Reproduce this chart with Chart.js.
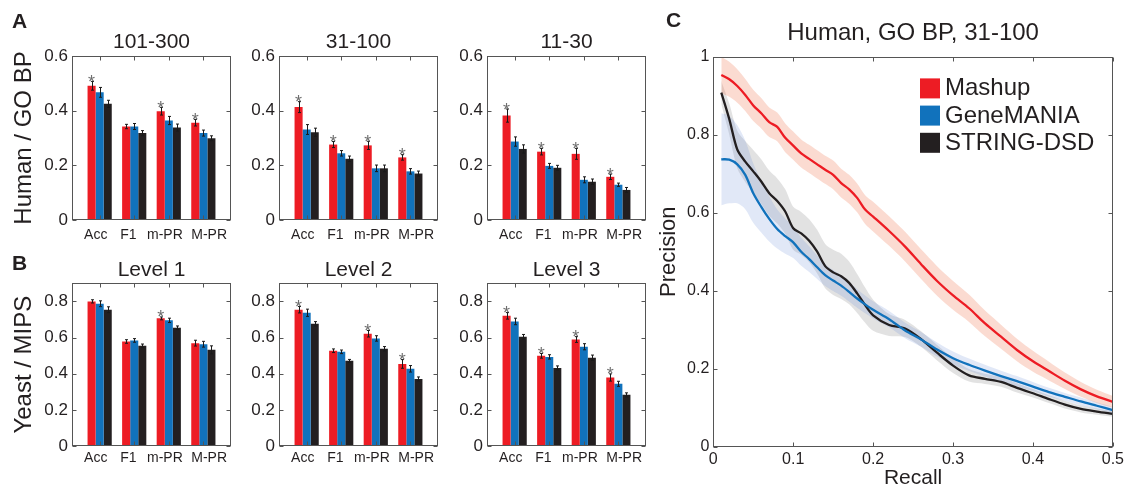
<!DOCTYPE html>
<html><head><meta charset="utf-8">
<script src="https://cdn.jsdelivr.net/npm/chart.js@4.4.1/dist/chart.umd.min.js"></script>
<style>
html,body{margin:0;padding:0;background:#fff;width:1127px;height:490px;overflow:hidden;}
canvas{position:absolute;}
.lbl{position:absolute;font:bold 21px 'Liberation Sans',Arial,sans-serif;color:#231f20;line-height:21px;}
</style></head><body>
<canvas id="a1" width="240" height="245" style="left:0;top:0"></canvas>
<canvas id="a2" width="210" height="245" style="left:240px;top:0"></canvas>
<canvas id="a3" width="200" height="245" style="left:450px;top:0"></canvas>
<canvas id="b1" width="240" height="245" style="left:0;top:245px"></canvas>
<canvas id="b2" width="210" height="245" style="left:240px;top:245px"></canvas>
<canvas id="b3" width="200" height="245" style="left:450px;top:245px"></canvas>
<canvas id="c" width="477" height="490" style="left:650px;top:0"></canvas>
<div class="lbl" style="left:12px;top:10px">A</div>
<div class="lbl" style="left:12px;top:252px">B</div>
<div class="lbl" style="left:666px;top:9px">C</div>
<script>
// ---------- data ----------
const categories = ['Acc', 'F1', 'm-PR', 'M-PR'];
const methods = ['Mashup', 'GeneMANIA', 'STRING-DSD'];
const colors = ['#ED1C24', '#1172BC', '#231F20'];

const yTicksA = [0, 0.2, 0.4, 0.6];
const yTicksB = [0, 0.2, 0.4, 0.6, 0.8];

// Panel A: Human / GO BP
const a1Title = '101-300';
const a1Mashup = [0.491, 0.342, 0.398, 0.356];
const a1MashupErr = [0.016, 0.008, 0.014, 0.012];
const a1GeneMANIA = [0.467, 0.342, 0.364, 0.318];
const a1GeneMANIAErr = [0.018, 0.011, 0.015, 0.011];
const a1String = [0.425, 0.318, 0.338, 0.299];
const a1StringErr = [0.013, 0.009, 0.013, 0.009];
const a1Stars = [true, false, true, true];

const a2Title = '31-100';
const a2Mashup = [0.413, 0.276, 0.273, 0.229];
const a2MashupErr = [0.020, 0.011, 0.015, 0.010];
const a2GeneMANIA = [0.331, 0.244, 0.189, 0.178];
const a2GeneMANIAErr = [0.018, 0.010, 0.012, 0.010];
const a2String = [0.321, 0.224, 0.189, 0.170];
const a2StringErr = [0.015, 0.010, 0.012, 0.009];
const a2Stars = [true, true, true, true];

const a3Title = '11-30';
const a3Mashup = [0.382, 0.250, 0.242, 0.158];
const a3MashupErr = [0.024, 0.012, 0.020, 0.010];
const a3GeneMANIA = [0.287, 0.198, 0.147, 0.129];
const a3GeneMANIAErr = [0.017, 0.009, 0.011, 0.006];
const a3String = [0.260, 0.191, 0.140, 0.110];
const a3StringErr = [0.015, 0.009, 0.010, 0.009];
const a3Stars = [true, true, true, true];

// Panel B: Yeast / MIPS
const b1Title = 'Level 1';
const b1Mashup = [0.800, 0.578, 0.706, 0.569];
const b1MashupErr = [0.009, 0.010, 0.008, 0.016];
const b1GeneMANIA = [0.787, 0.584, 0.695, 0.563];
const b1GeneMANIAErr = [0.016, 0.010, 0.012, 0.016];
const b1String = [0.754, 0.554, 0.654, 0.532];
const b1StringErr = [0.016, 0.010, 0.010, 0.022];
const b1Stars = [false, false, true, false];

const b2Title = 'Level 2';
const b2Mashup = [0.754, 0.527, 0.621, 0.454];
const b2MashupErr = [0.018, 0.010, 0.018, 0.024];
const b2GeneMANIA = [0.737, 0.521, 0.595, 0.427];
const b2GeneMANIAErr = [0.020, 0.010, 0.015, 0.018];
const b2String = [0.676, 0.471, 0.538, 0.371];
const b2StringErr = [0.012, 0.008, 0.012, 0.011];
const b2Stars = [true, false, true, true];

const b3Title = 'Level 3';
const b3Mashup = [0.720, 0.499, 0.589, 0.379];
const b3MashupErr = [0.018, 0.013, 0.016, 0.020];
const b3GeneMANIA = [0.689, 0.493, 0.549, 0.344];
const b3GeneMANIAErr = [0.018, 0.012, 0.017, 0.014];
const b3String = [0.604, 0.432, 0.488, 0.283];
const b3StringErr = [0.013, 0.011, 0.015, 0.011];
const b3Stars = [true, true, true, true];

// Panel C: Human, GO BP, 31-100 precision-recall
const cTitle = 'Human, GO BP, 31-100';
const recallTicks = [0, 0.1, 0.2, 0.3, 0.4, 0.5];
const precisionTicks = [0, 0.2, 0.4, 0.6, 0.8, 1];
const recall = [0.01,0.02,0.03,0.04,0.05,0.06,0.07,0.08,0.09,0.10,0.11,0.12,0.13,0.14,0.15,0.16,0.17,0.18,0.19,0.20,
                0.22,0.24,0.26,0.28,0.30,0.32,0.34,0.36,0.38,0.40,0.42,0.44,0.46,0.48,0.50];
const mashupPrecision = [0.953,0.942,0.925,0.902,0.875,0.855,0.832,0.820,0.792,0.772,0.752,0.738,0.724,0.710,0.697,0.676,0.660,0.638,0.608,0.590,
                0.553,0.513,0.468,0.425,0.388,0.355,0.316,0.282,0.248,0.219,0.194,0.169,0.147,0.129,0.115];
const mashupBand = [0.047,0.045,0.043,0.041,0.040,0.039,0.038,0.037,0.037,0.036,0.036,0.036,0.036,0.036,0.037,0.037,0.037,0.037,0.037,0.038,
                0.038,0.038,0.038,0.038,0.037,0.035,0.033,0.031,0.029,0.027,0.024,0.021,0.019,0.017,0.015];
const genemaniaPrecision = [0.737,0.736,0.724,0.697,0.650,0.615,0.584,0.558,0.540,0.524,0.500,0.481,0.460,0.440,0.426,0.413,0.397,0.380,0.365,0.351,
                0.327,0.298,0.275,0.249,0.227,0.210,0.195,0.181,0.168,0.154,0.140,0.128,0.116,0.105,0.094];
const genemaniaBand = [0.118,0.112,0.100,0.088,0.076,0.066,0.058,0.050,0.045,0.040,0.036,0.033,0.030,0.028,0.027,0.026,0.025,0.024,0.023,0.022,
                0.021,0.020,0.019,0.018,0.017,0.016,0.015,0.014,0.013,0.012,0.011,0.010,0.010,0.009,0.008];
const stringPrecision = [0.908,0.840,0.762,0.731,0.706,0.680,0.650,0.630,0.603,0.560,0.547,0.528,0.500,0.463,0.447,0.437,0.420,0.393,0.363,0.337,
                0.312,0.303,0.276,0.241,0.208,0.183,0.174,0.166,0.151,0.137,0.122,0.108,0.097,0.090,0.084];
const stringBand = [0.030,0.040,0.048,0.052,0.055,0.057,0.058,0.058,0.057,0.055,0.055,0.055,0.056,0.057,0.058,0.058,0.055,0.050,0.045,0.040,
                0.028,0.022,0.020,0.020,0.019,0.016,0.013,0.012,0.012,0.011,0.010,0.010,0.009,0.008,0.007];

// ---------- style ----------
Chart.defaults.font.family = '"Liberation Sans", Arial, Helvetica, sans-serif';
Chart.defaults.color = '#231f20';
const TXT = '#231f20';
const fmt = v => (v === 0 ? '0' : v === 1 ? '1' : v.toFixed(1));
// label nudging (spaces added before/after each category label, negative = shift left)
const labelNudge = [-2, -3, -2, 3];
const nudged = (s, n) => (n < 0 ? s + ' '.repeat(-n) : ' '.repeat(n) + s);

const boxPlugin = {
  id: 'boxTicks',
  afterDatasetsDraw(chart) {
    const {ctx, chartArea: a} = chart;
    const xs = chart.scales.x, ys = chart.scales.y;
    const L = Math.round(a.left) + 0.5, R = Math.round(a.right) - 0.5;
    const T = Math.round(a.top) + 0.5, B = Math.round(a.bottom) - 0.5;
    ctx.save();
    ctx.strokeStyle = '#555';
    ctx.lineWidth = 1;
    ctx.strokeRect(L, T, R - L, B - T);
    ctx.beginPath();
    ys.ticks.forEach(t => {
      const y = Math.round(ys.getPixelForValue(t.value)) + 0.5;
      ctx.moveTo(L, y); ctx.lineTo(L + 4, y);
      ctx.moveTo(R, y); ctx.lineTo(R - 4, y);
    });
    xs.ticks.forEach(t => {
      const x = Math.round(xs.getPixelForValue(t.value)) + 0.5;
      ctx.moveTo(x, B); ctx.lineTo(x, B - 4);
      ctx.moveTo(x, T); ctx.lineTo(x, T + 4);
    });
    ctx.stroke();
    ctx.restore();
  }
};

const errPlugin = {
  id: 'errBars',
  afterDatasetsDraw(chart) {
    const ctx = chart.ctx, ys = chart.scales.y;
    ctx.save();
    chart.data.datasets.forEach((ds, i) => {
      const meta = chart.getDatasetMeta(i);
      meta.data.forEach((bar, j) => {
        const v = ds.data[j].y, e = ds.errors[j];
        const x = Math.round(bar.x) + 0.5;
        const yT = ys.getPixelForValue(v + e), yB = ys.getPixelForValue(v - e);
        ctx.strokeStyle = '#1a1a1a';
        ctx.lineWidth = 1;
        ctx.beginPath();
        ctx.moveTo(x, yT); ctx.lineTo(x, yB);
        ctx.moveTo(x - 1.5, yT); ctx.lineTo(x + 1.5, yT);
        ctx.moveTo(x - 1.5, yB); ctx.lineTo(x + 1.5, yB);
        ctx.stroke();
        if (ds.stars && ds.stars[j]) {
          ctx.fillStyle = '#6e6e6e';
          ctx.font = '18px "Liberation Sans", Arial, sans-serif';
          ctx.textAlign = 'center';
          ctx.textBaseline = 'alphabetic';
          ctx.fillText('*', bar.x, yT + 6.5);
        }
      });
    });
    ctx.restore();
  }
};

function barChart(id, p) {
  const datasets = methods.map((m, k) => ({
    label: m,
    data: p.values[k].map((v, j) => ({x: j + 1, y: v})),
    errors: p.errors[k],
    stars: k === 0 ? p.stars : null,
    backgroundColor: colors[k],
    borderWidth: 0,
    categoryPercentage: 0.7,
    barPercentage: 1.0,
    xAxisID: 'x', yAxisID: 'y'
  }));
  new Chart(document.getElementById(id), {
    type: 'bar',
    data: {datasets},
    options: {
      responsive: false, animation: false,
      layout: {padding: {left: 0, right: p.padRight, top: 0, bottom: 0}},
      plugins: {legend: {display: false}, tooltip: {enabled: false}},
      scales: {
        x: {
          type: 'linear', position: 'bottom', min: 0.2, max: 4.8, offset: false,
          grid: {display: false, drawTicks: false}, border: {display: false},
          afterBuildTicks: s => { s.ticks = categories.map((c, j) => ({value: j + 1})); },
          ticks: {padding: p.xPad, font: {size: 14}, color: TXT, autoSkip: false, maxRotation: 0,
                  callback: v => { const j = Math.round(v) - 1; return nudged(categories[j], labelNudge[j]); }},
          afterFit: s => { s.height = p.xH; }
        },
        top: {
          type: 'linear', position: 'top', min: 0, max: 1,
          grid: {display: false, drawTicks: false}, border: {display: false}, ticks: {display: false},
          title: {display: true, text: p.title, font: {size: 21}, color: TXT, padding: {top: p.titlePad, bottom: 0}},
          afterFit: s => { s.height = p.areaTop; }
        },
        y: {
          type: 'linear', position: 'left', min: 0, max: p.yMax,
          grid: {display: false, drawTicks: false}, border: {display: false},
          afterBuildTicks: s => { s.ticks = p.yTicks.map(v => ({value: v})); },
          ticks: {padding: 4, font: {size: 17}, color: TXT, callback: v => fmt(v)},
          title: p.yLabel ? {display: true, text: p.yLabel, font: {size: 24}, color: TXT, padding: {top: 9.5, bottom: 0}} : {display: false},
          afterFit: s => { s.width = p.areaLeft; }
        }
      }
    },
    plugins: [boxPlugin, errPlugin]
  });
}

const rowA = {areaTop: 56, xH: 25, titlePad: 29.4, xPad: 6.6, yMax: 0.6, yTicks: yTicksA};
const rowB = {areaTop: 38.3, xH: 44, titlePad: 12.4, xPad: 3.9, yMax: 0.9, yTicks: yTicksB};
const col1 = {areaLeft: 72, padRight: 9};
const col2 = {areaLeft: 39, padRight: 12};
const col3 = {areaLeft: 37, padRight: 4};

barChart('a1', {...rowA, ...col1, title: a1Title, yLabel: 'Human / GO BP',
  values: [a1Mashup, a1GeneMANIA, a1String], errors: [a1MashupErr, a1GeneMANIAErr, a1StringErr], stars: a1Stars});
barChart('a2', {...rowA, ...col2, title: a2Title,
  values: [a2Mashup, a2GeneMANIA, a2String], errors: [a2MashupErr, a2GeneMANIAErr, a2StringErr], stars: a2Stars});
barChart('a3', {...rowA, ...col3, title: a3Title,
  values: [a3Mashup, a3GeneMANIA, a3String], errors: [a3MashupErr, a3GeneMANIAErr, a3StringErr], stars: a3Stars});
barChart('b1', {...rowB, ...col1, title: b1Title, yLabel: 'Yeast / MIPS',
  values: [b1Mashup, b1GeneMANIA, b1String], errors: [b1MashupErr, b1GeneMANIAErr, b1StringErr], stars: b1Stars});
barChart('b2', {...rowB, ...col2, title: b2Title,
  values: [b2Mashup, b2GeneMANIA, b2String], errors: [b2MashupErr, b2GeneMANIAErr, b2StringErr], stars: b2Stars});
barChart('b3', {...rowB, ...col3, title: b3Title,
  values: [b3Mashup, b3GeneMANIA, b3String], errors: [b3MashupErr, b3GeneMANIAErr, b3StringErr], stars: b3Stars});

// ---------- panel C ----------
const legendPlugin = {
  id: 'insideLegend',
  afterDraw(chart) {
    const {ctx, chartArea: a} = chart;
    const items = chart.data.datasets.filter(d => d.inLegend);
    ctx.save();
    ctx.font = '24px "Liberation Sans", Arial, sans-serif';
    ctx.textBaseline = 'middle';
    ctx.textAlign = 'left';
    items.forEach((d, i) => {
      const x = a.left + 206.7, y = a.top + 21.7 + i * 27.2;
      ctx.fillStyle = d.borderColor;
      ctx.fillRect(x, y, 20, 20);
      ctx.fillStyle = TXT;
      ctx.fillText(d.label, x + 25, y + 10.3);
    });
    ctx.restore();
  }
};

const series = [
  {label: methods[0], vals: mashupPrecision, band: mashupBand, color: colors[0], fill: 'rgba(240,110,70,0.25)'},
  {label: methods[1], vals: genemaniaPrecision, band: genemaniaBand, color: colors[1], fill: 'rgba(90,130,210,0.18)'},
  {label: methods[2], vals: stringPrecision, band: stringBand, color: colors[2], fill: 'rgba(110,110,110,0.2)'}
];
const cDatasets = [];
series.forEach(s => cDatasets.push({
  label: s.label, inLegend: true,
  data: recall.map((r, i) => ({x: r, y: s.vals[i]})),
  borderColor: s.color, borderWidth: 2.3, pointRadius: 0, tension: 0.3, fill: false, order: 0
}));
series.forEach(s => {
  const up = cDatasets.length;
  cDatasets.push({
    label: s.label + ' upper', data: recall.map((r, i) => ({x: r, y: s.vals[i] + s.band[i]})),
    borderColor: 'transparent', borderWidth: 0, pointRadius: 0, tension: 0.3, fill: false, order: 1
  });
  cDatasets.push({
    label: s.label + ' lower', data: recall.map((r, i) => ({x: r, y: s.vals[i] - s.band[i]})),
    borderColor: 'transparent', borderWidth: 0, pointRadius: 0, tension: 0.3,
    fill: {target: up}, backgroundColor: s.fill, order: 1
  });
});

new Chart(document.getElementById('c'), {
  type: 'line',
  data: {datasets: cDatasets},
  options: {
    responsive: false, animation: false,
    layout: {padding: {left: 0, right: 13.7, top: 0, bottom: 0}},
    plugins: {legend: {display: false}, tooltip: {enabled: false}},
    scales: {
      x: {
        type: 'linear', position: 'bottom', min: 0, max: 0.5,
        grid: {display: false, drawTicks: false}, border: {display: false},
        afterBuildTicks: s => { s.ticks = recallTicks.map(v => ({value: v})); },
        ticks: {padding: 3, font: {size: 16}, color: TXT, maxRotation: 0, autoSkip: false, callback: v => fmt(v)},
        title: {display: true, text: 'Recall', font: {size: 21}, color: TXT, padding: {top: 0, bottom: -1}},
        afterFit: s => { s.height = 43.3; }
      },
      top: {
        type: 'linear', position: 'top', min: 0, max: 1,
        grid: {display: false, drawTicks: false}, border: {display: false}, ticks: {display: false},
        title: {display: true, text: cTitle, font: {size: 24}, color: TXT, padding: {top: 18.9, bottom: 0}},
        afterFit: s => { s.height = 56.7; }
      },
      y: {
        type: 'linear', position: 'left', min: 0, max: 1,
        grid: {display: false, drawTicks: false}, border: {display: false},
        afterBuildTicks: s => { s.ticks = precisionTicks.map(v => ({value: v})); },
        ticks: {padding: 4, font: {size: 16}, color: TXT, callback: v => fmt(v)},
        title: {display: true, text: 'Precision', font: {size: 22}, color: TXT, padding: {top: 5.3, bottom: 0}},
        afterFit: s => { s.width = 63.3; }
      }
    }
  },
  plugins: [boxPlugin, legendPlugin]
});
</script>
</body></html>
